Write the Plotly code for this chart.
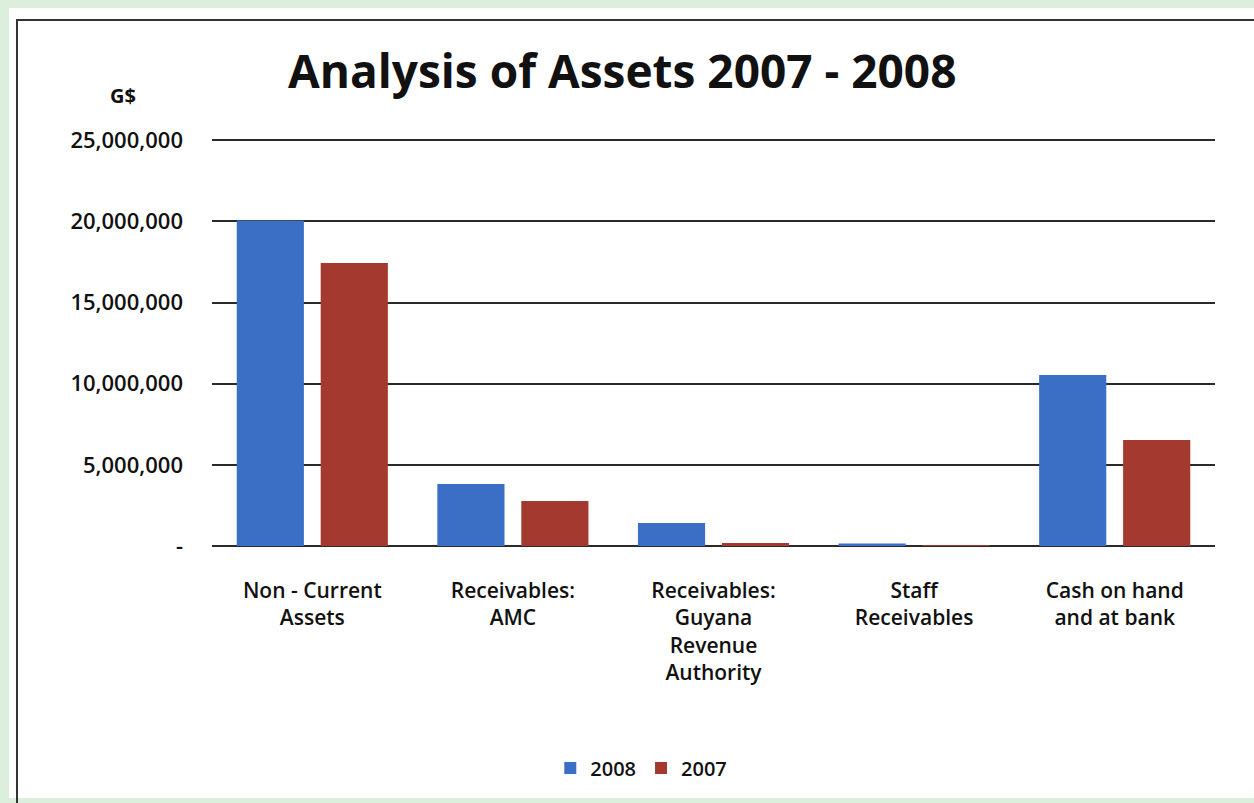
import plotly.graph_objects as go

# Asset categories and balances (G$)
categories = [
    "Non - Current<br>Assets",
    "Receivables:<br>AMC",
    "Receivables:<br>Guyana<br>Revenue<br>Authority",
    "Staff<br>Receivables",
    "Cash on hand<br>and at bank",
]
values_2008 = [20050000, 3820000, 1420000, 150000, 10530000]
values_2007 = [17430000, 2770000, 180000, 30000, 6530000]

tick_values = [0, 5000000, 10000000, 15000000, 20000000, 25000000]
tick_labels = ["-", "5,000,000", "10,000,000", "15,000,000", "20,000,000", "25,000,000"]

BLUE = "#3b6fc6"
RED = "#a3392f"
FONT = "Open Sans"

W, H = 1254, 803
Y_MAX = 25200000  # a little headroom so the 25,000,000 gridline is drawn
M_L, M_R, M_B = 212, 39, 257
M_T = 137
PW = W - M_L - M_R
PH = H - M_T - M_B


def px(x):
    return (x - M_L) / PW


def py(y):
    return (H - M_B - y) / PH


fig = go.Figure()
fig.add_trace(go.Bar(name="2008", x=categories, y=values_2008,
                     marker=dict(color=BLUE, line=dict(width=0))))
fig.add_trace(go.Bar(name="2007", x=categories, y=values_2007,
                     marker=dict(color=RED, line=dict(width=0))))

shapes = [
    # white card inside the green border
    dict(type="rect", xref="paper", yref="paper", layer="below",
         x0=px(9), x1=px(W + 5), y0=py(H - 5), y1=py(8),
         fillcolor="white", line=dict(width=0)),
    # dark frame line
    dict(type="rect", xref="paper", yref="paper", layer="below",
         x0=px(17), x1=px(W + 10), y0=py(H + 10), y1=py(20),
         fillcolor="rgba(0,0,0,0)", line=dict(color="#333333", width=2)),
]

fig.update_layout(
    width=W, height=H,
    margin=dict(l=M_L, r=M_R, t=M_T, b=M_B),
    paper_bgcolor="#dcEEdc",
    plot_bgcolor="rgba(0,0,0,0)",
    barmode="group",
    bargap=0.163,
    bargroupgap=0.2,
    showlegend=True,
    legend=dict(orientation="h", x=0.428, xanchor="center", y=py(768), yanchor="middle",
                font=dict(family=FONT, size=20, color="#111111", weight=600),
                itemwidth=30, traceorder="normal", bgcolor="rgba(0,0,0,0)"),
    shapes=shapes,
    annotations=[
        dict(text="Analysis of Assets 2007 - 2008", xref="paper", yref="paper",
             x=px(622), y=py(70), xanchor="center", yanchor="middle", showarrow=False,
             font=dict(family=FONT, size=46, color="#111111", weight="bold")),
        dict(text="G$", xref="paper", yref="paper",
             x=px(123), y=py(96), xanchor="center", yanchor="middle", showarrow=False,
             font=dict(family=FONT, size=20, color="#111111", weight="bold")),
    ],
    xaxis=dict(
        showgrid=False, showline=False, ticks="",
        tickfont=dict(family=FONT, size=21, color="#111111", weight=600),
        ticklabelstandoff=30,
    ),
    yaxis=dict(
        range=[0, Y_MAX],
        tickvals=tick_values, ticktext=tick_labels,
        showgrid=True, gridcolor="#2a2a2a", gridwidth=1.5,
        zeroline=True, zerolinecolor="#2a2a2a", zerolinewidth=1.5,
        showline=False, ticks="",
        tickfont=dict(family=FONT, size=22, color="#111111", weight=600),
        ticklabelstandoff=28,
    ),
)

fig.write_html("out.html")
